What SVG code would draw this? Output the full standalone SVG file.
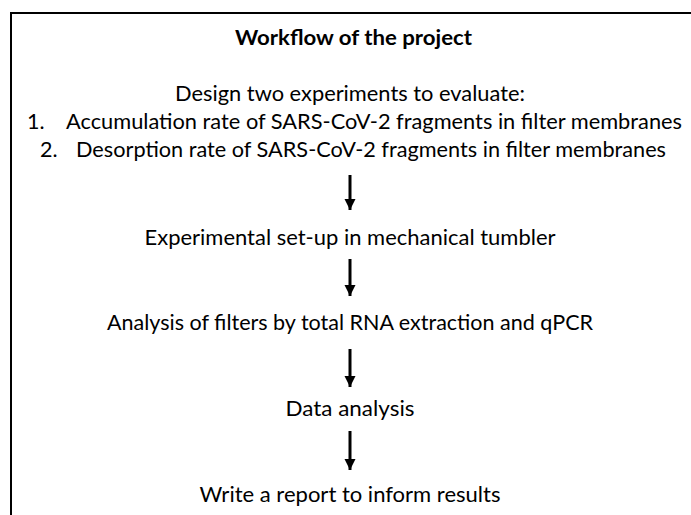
<svg xmlns="http://www.w3.org/2000/svg" width="691" height="515" viewBox="0 0 691 515">
<defs>
<style>
text{font-family:Lato,"Open Sans","Liberation Sans",sans-serif;fill:#000;font-size:21.5px}
.title{font-weight:bold}
.shaft{stroke:#000;stroke-width:3}
</style>
<marker id="ah" viewBox="0 0 10 10" refX="10" refY="5" markerWidth="3.8" markerHeight="3.8" markerUnits="strokeWidth" orient="auto">
<path d="M0,0L10,5L0,10z" fill="#000"/>
</marker>
</defs>
<rect x="11" y="13" width="700" height="530" fill="#fff" stroke="#000" stroke-width="2"/>
<g id="title"><text class="title" x="353.5" y="45" text-anchor="middle" textLength="237" lengthAdjust="spacingAndGlyphs">Workflow of the project</text></g>
<g id="step1">
<text x="350" y="101" text-anchor="middle" textLength="350" lengthAdjust="spacingAndGlyphs">Design two experiments to evaluate:</text>
<text x="27" y="129">1.</text>
<text x="66" y="129" textLength="616" lengthAdjust="spacingAndGlyphs">Accumulation rate of SARS-CoV-2 fragments in filter membranes</text>
<text x="40" y="157">2.</text>
<text x="76" y="157" textLength="590" lengthAdjust="spacingAndGlyphs">Desorption rate of SARS-CoV-2 fragments in filter membranes</text>
</g>
<g id="step2"><text x="350" y="245" text-anchor="middle" textLength="411" lengthAdjust="spacingAndGlyphs">Experimental set-up in mechanical tumbler</text></g>
<g id="step3"><text x="350" y="330" text-anchor="middle" textLength="486" lengthAdjust="spacingAndGlyphs">Analysis of filters by total RNA extraction and qPCR</text></g>
<g id="step4"><text x="350" y="416" text-anchor="middle" textLength="129" lengthAdjust="spacingAndGlyphs">Data analysis</text></g>
<g id="step5"><text x="350" y="502" text-anchor="middle" textLength="301" lengthAdjust="spacingAndGlyphs">Write a report to inform results</text></g>
<g id="connectors">
<line class="shaft" x1="350" y1="175" x2="350" y2="210" marker-end="url(#ah)"/>
<line class="shaft" x1="350" y1="259" x2="350" y2="296" marker-end="url(#ah)"/>
<line class="shaft" x1="350" y1="349" x2="350" y2="387" marker-end="url(#ah)"/>
<line class="shaft" x1="350" y1="431" x2="350" y2="470" marker-end="url(#ah)"/>
</g>
</svg>
